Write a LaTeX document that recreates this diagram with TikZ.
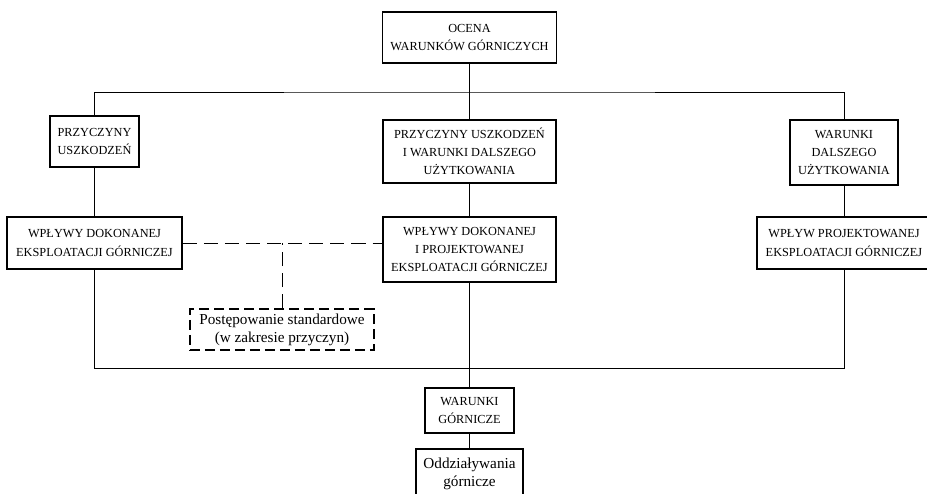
\documentclass[tikz,border=0pt]{standalone}
\usepackage{fontspec}
\setmainfont{Liberation Serif}
\usepackage{tikz}

\begin{document}
\begin{tikzpicture}[x=0.03cm, y=-0.03cm,
    box/.style={draw, line width=1.3pt, inner sep=0pt, align=center,
      font=\fontsize{10.5}{15.6}\selectfont},
    lowbox/.style={box, font=\fontsize{13}{15.4}\selectfont},
    dashbox/.style={lowbox, dash pattern=on 8.5pt off 4.3pt},
    link/.style={line width=0.8pt},
    dashlink/.style={link, dash pattern=on 12pt off 6pt}]
    \useasboundingbox (0,0) rectangle (927,493);

    % Top
    \node[box, minimum width=5.22cm, minimum height=1.53cm] (ocena) at (469.5,37.5)
      {OCENA\\WARUNKÓW GÓRNICZYCH};

    % Second row
    \node[box, minimum width=2.67cm, minimum height=1.53cm] (przy) at (94.5,141.5)
      {PRZYCZYNY\\USZKODZEŃ};
    \node[box, minimum width=5.19cm, minimum height=1.89cm] (przywar) at (469.5,151.5)
      {PRZYCZYNY USZKODZEŃ\\I WARUNKI DALSZEGO\\UŻYTKOWANIA};
    \node[box, minimum width=3.24cm, minimum height=1.95cm] (war) at (844,152.5)
      {WARUNKI\\DALSZEGO\\UŻYTKOWANIA};

    % Third row
    \node[box, minimum width=5.25cm, minimum height=1.56cm] (wplL) at (94.5,243)
      {WPŁYWY DOKONANEJ\\EKSPLOATACJI GÓRNICZEJ};
    \node[box, minimum width=5.19cm, minimum height=1.95cm] (wplM) at (469.5,249.5)
      {WPŁYWY DOKONANEJ\\I PROJEKTOWANEJ\\EKSPLOATACJI GÓRNICZEJ};
    \node[box, minimum width=5.22cm, minimum height=1.56cm] (wplR) at (844,243)
      {WPŁYW PROJEKTOWANEJ\\EKSPLOATACJI GÓRNICZEJ};

    % Standard procedure
    \node[dashbox, minimum width=5.52cm, minimum height=1.23cm] (std) at (282,329.5)
      {Postępowanie standardowe\\(w zakresie przyczyn)};

    % Bottom
    \node[box, minimum width=2.67cm, minimum height=1.35cm] (warg) at (469.5,410.5)
      {WARUNKI\\GÓRNICZE};
    \node[lowbox, minimum width=3.21cm, minimum height=1.5cm] (odd) at (469.5,474)
      {Oddziaływania\\górnicze};

    % Upper bus
    \coordinate (topbus) at (469.5,92);
    \draw[link] (ocena) -- (przywar);
    \draw[link] (przy.north) |- (topbus) -| (war.north);
    \draw[link] (przy) -- (wplL);
    \draw[link] (przywar) -- (wplM);
    \draw[link] (war) -- (wplR);

    % Lower bus
    \coordinate (botbus) at (469.5,368);
    \draw[link] (wplL.south) |- (botbus) -| (wplR.south);
    \draw[link] (wplM) -- (warg);
    \draw[link] (warg) -- (odd);

    % Dashed links
    \draw[dashlink] (wplL.east) -- (wplL.east -| wplM.west);
    \draw[dashlink] (std.north) -- (std.north |- wplL.east);
  \end{tikzpicture}
\end{document}
